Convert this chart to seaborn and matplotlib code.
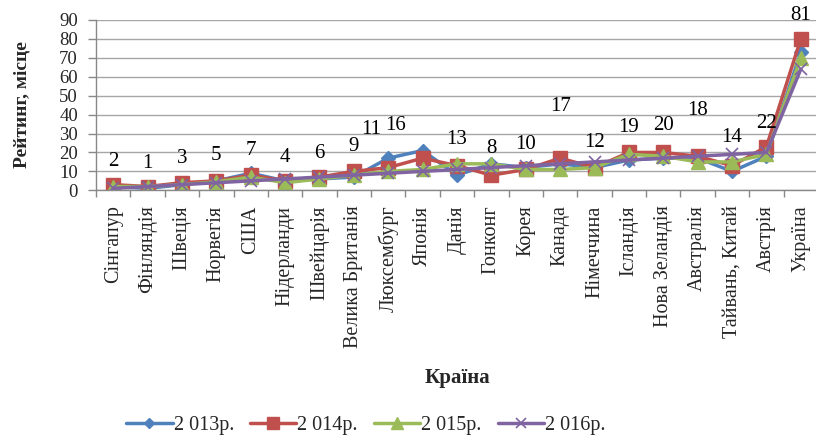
import numpy as np
import pandas as pd
import matplotlib
matplotlib.use("Agg")
import matplotlib.pyplot as plt
import seaborn as sns

# Data
countries = ["Сінгапур", "Фінляндія", "Швеція", "Норвегія", "США", "Нідерланди",
             "Швейцарія", "Велика Британія", "Люксембург", "Японія", "Данія",
             "Гонконг", "Корея", "Канада", "Німеччина", "Ісландія", "Нова Зеландія",
             "Австралія", "Тайвань, Китай", "Австрія", "Україна"]
r2013 = [2, 1, 3, 5, 9, 5, 6, 7, 17, 21, 8, 14, 12, 14, 12, 16, 17, 17, 10, 18, 73]
r2014 = [3, 2, 4, 5, 8, 5, 7, 10, 12, 17, 13, 8, 11, 17, 12, 20, 20, 18, 13, 23, 80]
r2015 = [2, 2, 3, 4.5, 7, 4, 6, 8, 10, 11, 14, 14, 11, 11, 12, 19, 18, 15, 15, 19, 70]
r2016 = [1, 2, 3, 4, 5, 6, 7, 8, 9, 10, 11, 12, 13, 14, 15, 16, 17, 18, 19, 20, 64]
top_labels = [2, 1, 3, 5, 7, 4, 6, 9, 11, 16, 13, 8, 10, 17, 12, 19, 20, 18, 14, 22, 81]
label_y = [15, 14, 17, 18.5, 21, 17.5, 19.5, 23, 32, 34.5, 27, 22, 24, 44.5, 25, 33, 34.5, 42, 28, 35.5, 92.5]
label_dx = [0] * 21
label_dx[8] = -0.5
label_dx[9] = -0.8
years = ["2 013р.", "2 014р.", "2 015р.", "2 016р."]

rows = []
for year, vals in zip(years, [r2013, r2014, r2015, r2016]):
    for i, v in enumerate(vals):
        rows.append({"pos": i, "rank": v, "year": year})
df = pd.DataFrame(rows)

sns.set_theme(style="white")
plt.rcParams['font.family'] = ['Liberation Serif', 'DejaVu Serif']

fig = plt.figure(figsize=(8.16, 4.41), dpi=100)
ax = fig.add_axes([96 / 816, 1 - 190.3 / 441, (818 - 96) / 816, (190.3 - 20) / 441])

palette = {"2 013р.": "#4F81BD", "2 014р.": "#C0504D", "2 015р.": "#9BBB59", "2 016р.": "#8064A2"}
markers = {"2 013р.": "D", "2 014р.": "s", "2 015р.": "^", "2 016р.": "x"}
sizes_mk = {"2 013р.": 7, "2 014р.": 10, "2 015р.": 10, "2 016р.": 9}

for year in years:
    sub = df[df["year"] == year]
    sns.lineplot(data=sub, x="pos", y="rank", ax=ax, color=palette[year], lw=2.5,
                 marker=markers[year], markersize=sizes_mk[year],
                 markeredgecolor=palette[year], markeredgewidth=1 if year != "2 016р." else 1.2,
                 label=year, legend=False)

for i, (lab, ly) in enumerate(zip(top_labels, label_y)):
    ax.text(i + label_dx[i], ly, str(lab), ha="center", va="center", fontsize=15, color="black")

ax.set_xlim(-0.5, 20.5)
ax.set_ylim(0, 90)
ax.set_yticks(np.arange(0, 91, 10))
ax.set_xticks(range(len(countries)))
ax.set_xticklabels(countries, rotation=90, fontsize=14.5, va="top", ha="center")
ax.set_xticks(np.arange(-0.5, 21, 1), minor=True)
ax.tick_params(axis="x", which="major", length=0, pad=11)
ax.tick_params(axis="x", which="minor", length=5, color="#888888", width=1, direction="out", bottom=True)
ax.tick_params(axis="y", length=6, color="#888888", width=1, direction="out", left=True, labelsize=13.5, pad=7)
ax.yaxis.grid(True, color="#A6A6A6", lw=1)
ax.set_axisbelow(True)
ax.set_xlabel("")
ax.set_ylabel("")
for s in ["top", "right"]:
    ax.spines[s].set_visible(False)
for s in ["left", "bottom"]:
    ax.spines[s].set_color("#888888")
    ax.spines[s].set_linewidth(1)

fig.text(22 / 816, 1 - 105 / 441, "Рейтинг, місце", rotation=90, ha="center", va="center",
         fontsize=14, fontweight="bold")
fig.text(457 / 816, 1 - 378 / 441, "Країна", ha="center", va="center", fontsize=15, fontweight="bold")

handles, labels = ax.get_legend_handles_labels()
fig.legend(handles, labels, loc="center", bbox_to_anchor=(366 / 816, 1 - 425 / 441), ncol=4,
           frameon=False, fontsize=14.5, handlelength=2.3, handletextpad=0.05, columnspacing=0.8,
           markerscale=0.8)

fig.savefig("out.png", dpi=100)
